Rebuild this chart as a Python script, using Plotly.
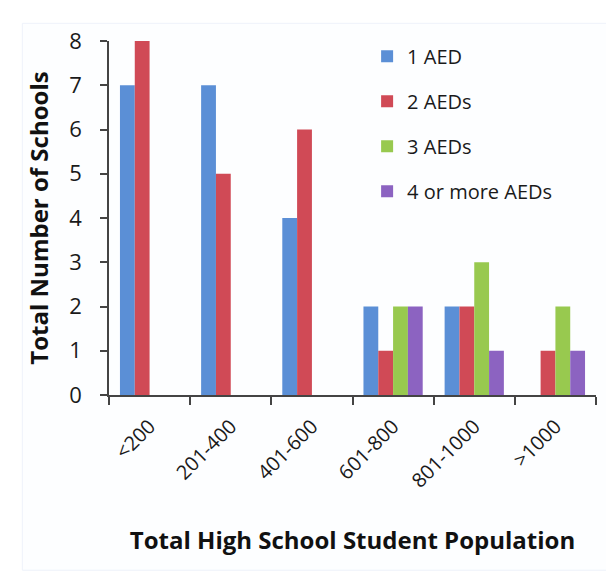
import plotly.graph_objects as go

categories = ["<200", "201-400", "401-600", "601-800", "801-1000", ">1000"]
series_names = ["1 AED", "2 AEDs", "3 AEDs", "4 or more AEDs"]
aed1 = [7, 7, 4, 2, 2, 0]
aed2 = [8, 5, 6, 1, 2, 1]
aed3 = [0, 0, 0, 2, 3, 2]
aed4 = [0, 0, 0, 2, 1, 1]
y_ticks = [0, 1, 2, 3, 4, 5, 6, 7, 8]

colors = ["#5B8FD6", "#D04A56", "#98C94F", "#8C63C1"]
values = [aed1, aed2, aed3, aed4]

fig = go.Figure()
for i, (name, vals) in enumerate(zip(series_names, values)):
    fig.add_trace(go.Bar(x=categories, y=vals, name=name,
                         marker=dict(color=colors[i], line=dict(width=0)),
                         legendgroup=name))

font_family = "Open Sans, Noto Sans, sans-serif"
fig.update_layout(
    width=614, height=579,
    margin=dict(l=101, r=26, t=33, b=192),
    paper_bgcolor="white", plot_bgcolor="white",
    barmode="group", bargap=0.27, bargroupgap=0,
    font=dict(family=font_family, color="#1a1a1a"),
    showlegend=True,
    legend=dict(x=0.53, y=1.012, xanchor="left", yanchor="top",
                font=dict(size=20, color="#1a1a1a"),
                bgcolor="rgba(0,0,0,0)", tracegroupgap=16,
                traceorder="grouped", itemwidth=30),
    shapes=[dict(type="rect", xref="paper", yref="paper", layer="below",
                 x0=-0.178, x1=1.04, y0=-0.495, y1=1.05,
                 line=dict(color="#EEF2FA", width=1), fillcolor="#FDFEFF")],
)
fig.update_xaxes(
    type="category", tickangle=-45, tickson="boundaries",
    ticks="outside", ticklen=8, tickcolor="#444", tickwidth=1.5,
    showline=True, linecolor="#444", linewidth=1.5,
    tickfont=dict(size=20, color="#1a1a1a"), ticklabelstandoff=10,
    title=dict(text="<b>Total High School Student Population</b>",
               font=dict(size=24, color="#111"), standoff=40),
    showgrid=False, automargin=False,
)
fig.update_yaxes(
    range=[0, 8], tickvals=y_ticks,
    ticks="outside", ticklen=7, tickcolor="#444", tickwidth=1.5,
    showline=True, linecolor="#444", linewidth=1.5,
    tickfont=dict(size=22, color="#1a1a1a"), ticklabelstandoff=14,
    title=dict(text="<b>Total Number of Schools</b>",
               font=dict(size=24, color="#111"), standoff=14),
    showgrid=False, zeroline=False, automargin=False,
)

fig.write_html("out.html")
